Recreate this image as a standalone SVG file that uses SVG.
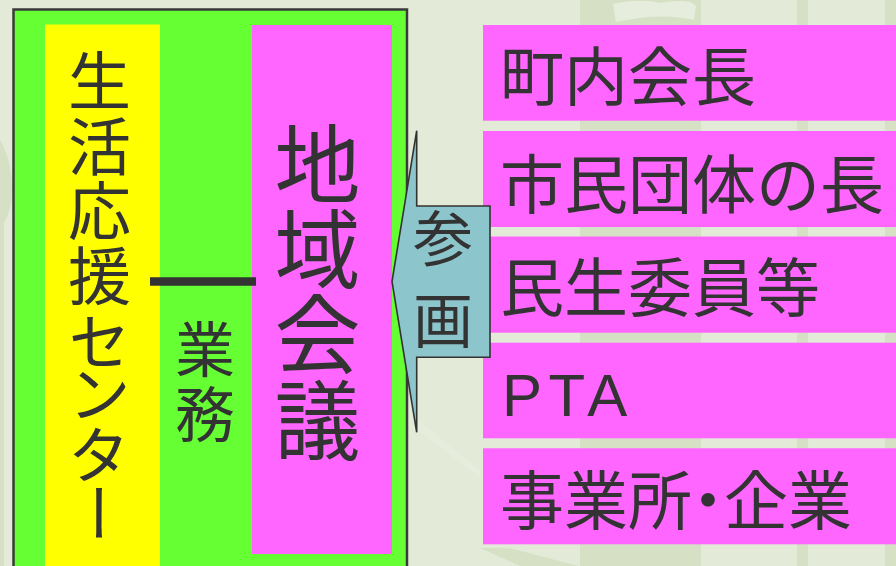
<svg xmlns="http://www.w3.org/2000/svg" width="896" height="566" viewBox="0 0 896 566">
<style>
.t{font-family:"Noto Sans CJK JP","Noto Sans CJK SC",sans-serif;fill:#333333;}
.v{writing-mode:vertical-rl;text-orientation:mixed;}
.pink{fill:#FF66FF;}
.bgd{fill:#D6E0C4;}
.bgl{fill:#E7EDDD;}
</style>
<g id="background">
<rect x="0" y="0" width="896" height="566" fill="#E3EAD8"/>
<rect class="bgd" x="580" y="0" width="121" height="566"/>
<path class="bgl" d="M613,4 Q640,-2 660,3 Q690,-2 696,6 L694,20 Q660,12 616,22 Z"/>
<rect class="bgd" x="797" y="0" width="11" height="566"/>
<rect class="bgd" x="885" y="0" width="11" height="566"/>
<path class="bgd" d="M480,548 L510,548 L578,566 L520,566 Z"/>
<path class="bgd" d="M0,140 Q12,160 12,190 Q12,210 4,222 L4,566 L0,566 Z"/>
<path class="bgl" d="M418,420 L480,470 L480,478 L418,430 Z"/>
</g>
<g id="left-panel">
<rect x="13.5" y="9.5" width="393.5" height="570" fill="#66FF33" stroke="#3A3A3A" stroke-width="2.5"/>
</g>
<g id="center-node">
<rect x="45" y="24.5" width="115" height="560" fill="#FFFF00"/>
<text class="t v" font-size="63" x="99.5" y="49"><tspan x="99.5" y="49">生</tspan><tspan x="99.5" y="115">活</tspan><tspan x="99.5" y="178.5">応</tspan><tspan x="99.5" y="243.5">援</tspan><tspan x="99.5" y="309.5">セ</tspan><tspan x="99.5" y="361.5">ン</tspan><tspan x="99.5" y="422.5">タ</tspan><tspan x="99.5" y="481.5">ー</tspan></text>
</g>
<g id="gyomu-label">
<text class="t v" font-size="60" x="205" y="319" letter-spacing="5">業務</text>
</g>
<g id="chiiki-kaigi">
<rect class="pink" x="252" y="25" width="140" height="529"/>
<text class="t v" font-size="86" x="317.5" y="121" letter-spacing="-0.7">地域会議</text>
</g>
<g id="connectors">
<line x1="150" y1="281.5" x2="256" y2="281.5" stroke="#333333" stroke-width="8.5"/>
</g>
<g id="participants">
<g id="p1"><rect class="pink" x="483" y="25" width="413" height="95.7"/><text class="t" x="500" y="71.5" font-size="64" dominant-baseline="central">町内会長</text></g>
<g id="p2"><rect class="pink" x="483" y="131" width="413" height="96"/><text class="t" x="500" y="179.5" font-size="64" dominant-baseline="central">市民団体の長</text></g>
<g id="p3"><rect class="pink" x="483" y="236.5" width="413" height="96.2"/><text class="t" x="500" y="282.5" font-size="64" dominant-baseline="central">民生委員等</text></g>
<g id="p4"><rect class="pink" x="483" y="342.7" width="413" height="95.6"/><text x="502" y="415.7" font-size="60" font-family="Liberation Sans, Arial, sans-serif" fill="#333333" letter-spacing="6.5">PTA</text></g>
<g id="p5"><rect class="pink" x="483" y="448.3" width="413" height="96"/><text class="t" x="500" y="495.5" font-size="64" dominant-baseline="central" style="font-feature-settings:'palt' 1">事業所・企業</text></g>
</g>
<g id="sankaku-arrow">
<polygon points="416.7,130.7 416.7,206 490,206 490,357.3 416.7,357.3 416.7,432.3 392,281.5" fill="#8CC5CB" stroke="#333333" stroke-width="1.6" stroke-linejoin="miter"/>
<text class="t v" font-size="60" x="443" y="208" letter-spacing="22">参画</text>
</g>
</svg>
